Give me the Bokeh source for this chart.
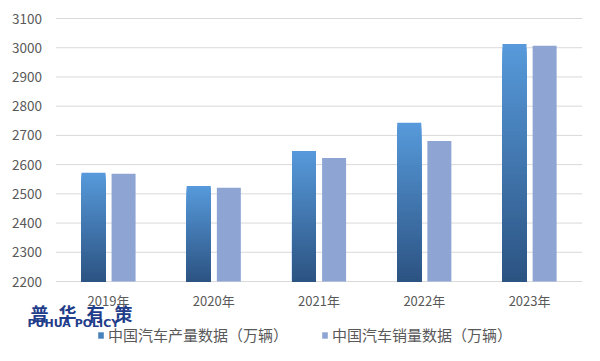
import numpy as np
from bokeh.plotting import figure
from bokeh.models import ColumnDataSource, Range1d, Legend, LegendItem, Label
from bokeh.embed import file_html
from bokeh.resources import INLINE
from bokeh.core.properties import value

# ---- data ----
years = ["2019年", "2020年", "2021年", "2022年", "2023年"]
production = [2572, 2527, 2647, 2743, 3013]
sales = [2569, 2521, 2623, 2681, 3007]
series_names = ["中国汽车产量数据（万辆）", "中国汽车销量数据（万辆）"]
y_ticks = [2200, 2300, 2400, 2500, 2600, 2700, 2800, 2900, 3000, 3100]
y_tick_labels = ["2200", "2300", "2400", "2500", "2600", "2700", "2800", "2900", "3000", "3100"]
y_min, y_max = 2200, 3100
logo_chars = ["普", "华", "有", "策"]
logo_sub = "PUHUA POLICY"

# ---- style / layout ----
TEXT = "#595959"
GRID = "#d9d9d9"
SALES_COLOR = "#8ea5d3"
TOP_RGB = np.array([87, 154, 219])
BOT_RGB = np.array([44, 83, 130])
LOGO = "#1f3d8a"
FONT = "Noto Sans CJK SC"
BAR_W = 0.228
OFF = 0.143
N = 60
W, H = 584, 345
AREA_LEFT, AREA_RIGHT = 55.4, 581.7      # pixel extent of the value area
TOP_PX, PLOT_PX = 18, 263
n = len(years)
px_per_cat = (AREA_RIGHT - AREA_LEFT) / n
units_per_px = (y_max - y_min) / PLOT_PX

p = figure(width=W, height=H,
           x_range=Range1d(-0.5 - AREA_LEFT / px_per_cat, n - 0.5 + (W - AREA_RIGHT) / px_per_cat),
           y_range=Range1d(y_min - (H - TOP_PX - PLOT_PX) * units_per_px, y_max + TOP_PX * units_per_px),
           x_axis_location=None, y_axis_location=None,
           output_backend="svg", toolbar_location=None,
           min_border=0)
p.outline_line_color = None
p.background_fill_color = "white"
p.border_fill_color = "white"
p.xgrid.grid_line_color = None
p.ygrid.grid_line_color = None

xs = np.arange(n)

# horizontal gridlines at the value ticks
p.segment(x0=[-0.5] * len(y_ticks), x1=[n - 0.5] * len(y_ticks), y0=y_ticks, y1=y_ticks,
          line_color=GRID, line_width=1)

# value tick labels
p.text(x=[-0.5] * len(y_ticks), y=y_ticks, text=y_tick_labels, x_offset=-14,
       text_font=value(FONT), text_font_size="13.5px", text_color=TEXT,
       text_align="right", text_baseline="middle")

# gradient production bars: overlapping quads from base to successively lower tops
rows = {"left": [], "right": [], "bottom": [], "top": [], "color": []}
for i, v in zip(xs, production):
    edges = np.linspace(y_min, v, N + 1)[1:]
    for k in range(N - 1, -1, -1):
        t = (k + 0.5) / N
        rgb = (BOT_RGB + (TOP_RGB - BOT_RGB) * t).round().astype(int)
        rows["left"].append(i - OFF - BAR_W / 2)
        rows["right"].append(i - OFF + BAR_W / 2)
        rows["bottom"].append(y_min)
        rows["top"].append(float(edges[k]))
        rows["color"].append("#%02x%02x%02x" % tuple(rgb))
src_p = ColumnDataSource(rows)
r_prod = p.quad(left="left", right="right", bottom="bottom", top="top",
                fill_color="color", line_color=None, source=src_p)

src_s = ColumnDataSource(dict(x=xs + OFF, value=sales))
r_sales = p.vbar(x="x", top="value", bottom=y_min, width=BAR_W,
                 fill_color=SALES_COLOR, line_color=None, source=src_s)

# category labels under the base line
p.text(x=xs, y=[y_min] * n, text=years, y_offset=19,
       text_font=value(FONT), text_font_size="13px", text_color=TEXT,
       text_align="center", text_baseline="middle")

# legend
legend = Legend(items=[LegendItem(label=series_names[0], renderers=[r_prod], index=N // 3),
                       LegendItem(label=series_names[1], renderers=[r_sales])],
                orientation="horizontal", location=(97, 0), padding=0, margin=0,
                border_line_color=None, background_fill_alpha=0,
                label_text_font=FONT, label_text_font_size="15px", label_text_color=TEXT,
                glyph_width=7, glyph_height=8, label_standoff=4, spacing=33, label_height=18)
p.add_layout(legend, "center")

# watermark logo
for i, ch in enumerate(logo_chars):
    p.add_layout(Label(x=39 + 28 * i, y=33, x_units="screen", y_units="screen", text=ch,
                       text_font=FONT, text_font_style="bold", text_font_size="18px",
                       text_color=LOGO, text_align="center", text_baseline="middle"))
p.add_layout(Label(x=27, y=22, x_units="screen", y_units="screen", text=logo_sub,
                   text_font="DejaVu Sans", text_font_style="bold", text_font_size="11px",
                   text_color=LOGO, text_align="left", text_baseline="middle"))

open("out.html", "w").write(file_html(p, INLINE))
